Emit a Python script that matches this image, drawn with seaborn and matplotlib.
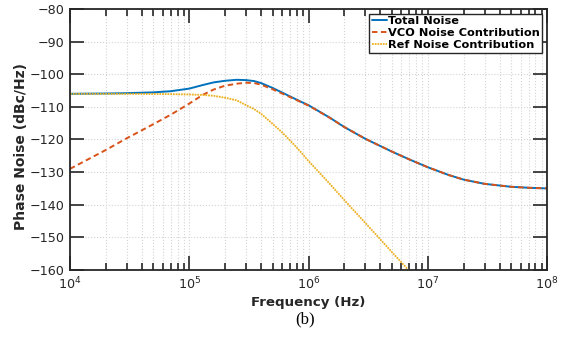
import numpy as np
import pandas as pd
import matplotlib
matplotlib.use("Agg")
import matplotlib.pyplot as plt
import matplotlib.ticker as mticker
import seaborn as sns

# values (dBc/Hz)
freq = [1e4, 2e4, 3e4, 5e4, 7e4, 1e5, 1.3e5, 1.6e5, 2e5, 2.5e5, 3e5, 3.5e5, 4e5,
        5e5, 6e5, 7e5, 8.5e5, 1e6, 1.5e6, 2e6, 3e6, 4e6, 5e6, 7e6, 1e7,
        1.5e7, 2e7, 3e7, 5e7, 7e7, 1e8]
total_noise = [-106.0, -105.9, -105.8, -105.55, -105.2, -104.4, -103.3, -102.5, -102.0,
               -101.7, -101.8, -102.1, -102.7, -104.2, -105.6, -106.8, -108.3, -109.5,
               -113.25, -116.2, -119.8, -122.0, -123.7, -126.1, -128.5,
               -130.9, -132.3, -133.6, -134.5, -134.8, -135.0]
vco_noise = [-129.0, -123.2, -119.6, -115.3, -112.4, -109.0, -106.3, -104.7, -103.5,
             -102.9, -102.6, -102.7, -103.2, -104.6, -105.9, -107.0, -108.4, -109.6,
             -113.3, -116.2, -119.8, -122.0, -123.7, -126.1, -128.5,
             -130.9, -132.3, -133.6, -134.5, -134.8, -135.0]
ref_freq = freq[:25]
ref_noise = [-106.0, -106.0, -106.0, -106.05, -106.1, -106.2, -106.35, -106.6, -107.2,
             -108.0, -109.5, -110.7, -112.1, -115.2, -117.8, -120.3, -123.6, -126.6,
             -133.5, -138.6, -145.6, -150.6, -154.5, -160.3, -166.5]

labels = ["Total Noise", "VCO Noise Contribution", "Ref Noise Contribution"]
colors = ["#0072BD", "#D95319", "#EDB120"]

sns.set_theme(style="ticks")
plt.rcParams["font.family"] = ["DejaVu Sans"]

fig = plt.figure(figsize=(5.73, 3.46), dpi=100)
ax = fig.add_axes([0.1222, 0.2197, 0.8324, 0.7543])

df_t = pd.DataFrame({"f": freq, "pn": total_noise})
df_v = pd.DataFrame({"f": freq, "pn": vco_noise})
df_r = pd.DataFrame({"f": ref_freq, "pn": ref_noise})

sns.lineplot(data=df_t, x="f", y="pn", ax=ax, color=colors[0], lw=1.4,
             label=labels[0], sort=False, estimator=None)
sns.lineplot(data=df_v, x="f", y="pn", ax=ax, color=colors[1], lw=1.4,
             label=labels[1], sort=False, estimator=None)
sns.lineplot(data=df_r, x="f", y="pn", ax=ax, color=colors[2], lw=1.3,
             label=labels[2], sort=False, estimator=None)
ax.lines[1].set_linestyle((0, (2.8, 1.8)))
ax.lines[2].set_linestyle((0, (1.0, 0.5)))

ax.set_xscale("log")
ax.set_xlim(1e4, 1e8)
ax.set_ylim(-160, -80)
ax.yaxis.set_major_locator(mticker.MultipleLocator(10))
ax.xaxis.set_major_locator(mticker.LogLocator(base=10, numticks=10))
ax.xaxis.set_minor_locator(mticker.LogLocator(base=10, subs=np.arange(2, 10), numticks=20))
ax.xaxis.set_minor_formatter(mticker.NullFormatter())

ax.grid(True, which="major", ls=":", color="#d4d4d4", lw=0.8)
ax.grid(True, which="minor", axis="x", ls=":", color="#d4d4d4", lw=0.8)

for sp in ax.spines.values():
    sp.set_visible(True)
    sp.set_color("#262626")
    sp.set_linewidth(1.3)
ax.tick_params(which="both", direction="in", top=True, right=True,
               color="#262626", width=1.2, labelsize=9.2, labelcolor="#262626")
ax.tick_params(which="major", length=10, pad=4)
ax.tick_params(which="minor", length=5)

ax.set_xlabel("Frequency (Hz)", fontsize=9.6, fontweight="bold", color="#262626", labelpad=3)
ax.set_ylabel("Phase Noise (dBc/Hz)", fontsize=10, fontweight="bold", color="#262626")
ax.yaxis.set_label_coords(-0.088, 0.475)

leg = ax.legend(loc="upper right", prop={"weight": "bold", "size": 8.2},
                frameon=True, fancybox=False, edgecolor="#262626", framealpha=1,
                handlelength=1.3, handletextpad=0.15, labelspacing=0.2,
                borderpad=0.2, borderaxespad=0.4)
leg.get_frame().set_linewidth(1.0)
for txt in leg.get_texts():
    txt.set_color("black")

fig.text(0.532, 0.055, "(b)", ha="center", va="bottom",
         fontsize=12, family="Liberation Serif", color="black")

fig.savefig("out.png", dpi=100)
